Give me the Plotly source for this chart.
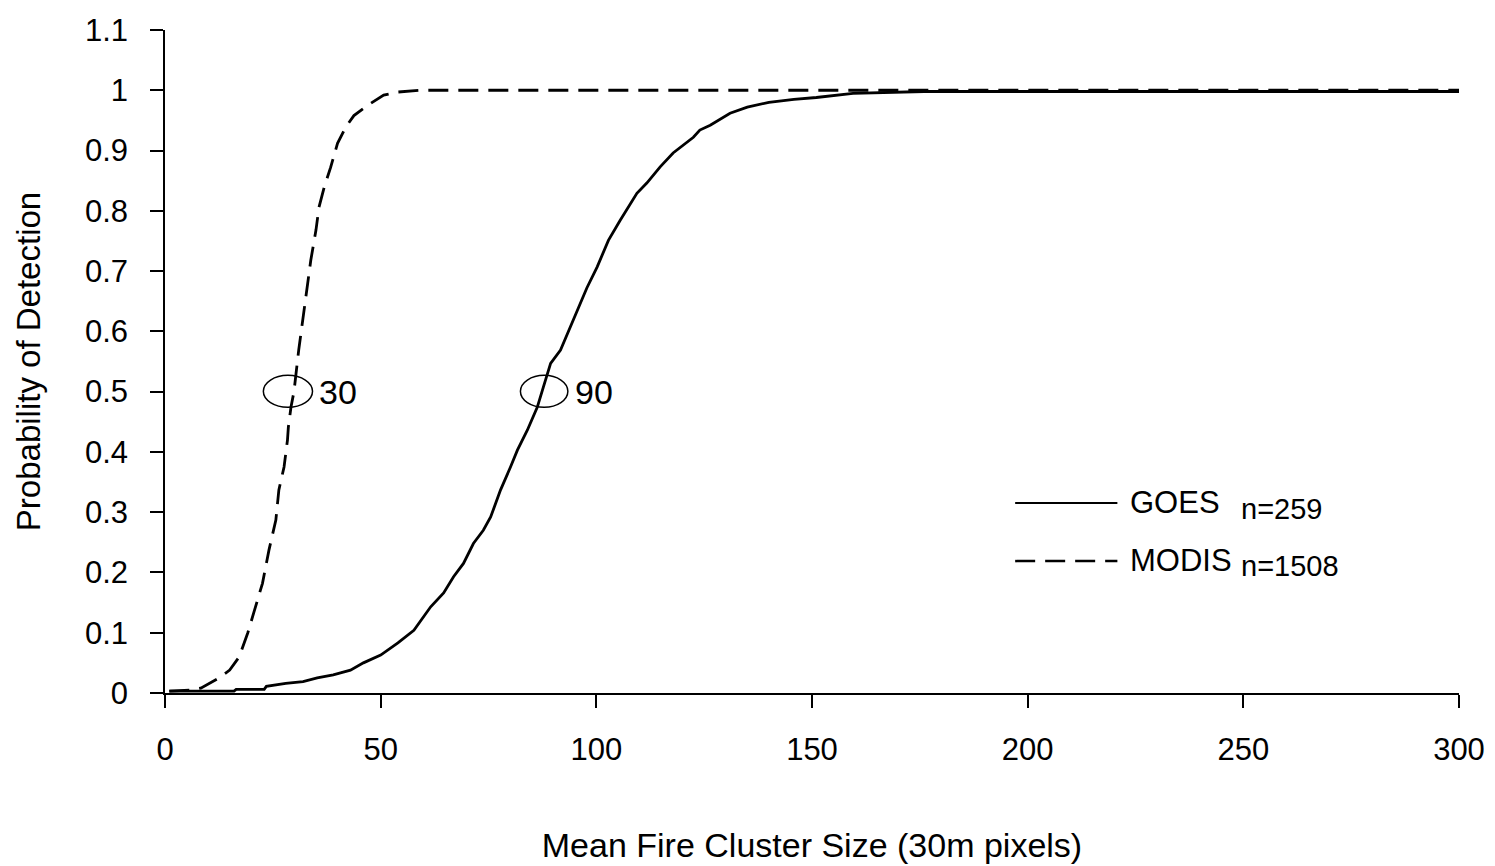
import plotly.graph_objects as go

# GOES curve (solid)
goes_x = [1, 16, 16.5, 23, 23.5, 28, 32, 35.3, 39, 43, 46, 50, 54, 57.7, 61.6, 64.6,
          66.9, 69.2, 71.5, 73.8, 75.5, 77.8, 80.1, 81.7, 84, 86.3, 87.7, 89.4, 91.7,
          93.5, 97.8, 100.2, 102.8, 105.5, 107.4, 109.4, 111.7, 114.8, 117.8, 120.2,
          122.5, 124, 126.4, 131, 135, 140, 145.8, 151, 159.5, 176, 300]
goes_y = [0.003, 0.003, 0.006, 0.006, 0.011, 0.016, 0.019, 0.025, 0.03, 0.038, 0.05,
          0.063, 0.083, 0.104, 0.143, 0.166, 0.193, 0.215, 0.248, 0.27, 0.292, 0.337,
          0.375, 0.403, 0.436, 0.474, 0.507, 0.547, 0.569, 0.6, 0.672, 0.707, 0.751,
          0.784, 0.806, 0.829, 0.846, 0.873, 0.896, 0.909, 0.922, 0.934, 0.942, 0.962,
          0.972, 0.98, 0.985, 0.988, 0.995, 0.998, 0.998]

# MODIS curve (dashed)
modis_x = [1, 6, 8.3, 12.5, 15, 17.2, 19.2, 20.7, 22.6, 24.1, 25.7, 26.4, 27.6, 28.4,
           28.6, 29.2, 29.9, 31, 33, 33.8, 35, 35.7, 36.9, 38.4, 40, 41.9, 43.8, 47,
           50.7, 53.9, 59.3, 300]
modis_y = [0.003, 0.005, 0.008, 0.025, 0.038, 0.06, 0.1, 0.138, 0.182, 0.237, 0.287,
           0.337, 0.375, 0.42, 0.441, 0.474, 0.5, 0.569, 0.672, 0.718, 0.768, 0.806,
           0.839, 0.872, 0.912, 0.939, 0.958, 0.975, 0.992, 0.997, 1.0, 1.0]

x_ticks = [0, 50, 100, 150, 200, 250, 300]
y_ticks = [0, 0.1, 0.2, 0.3, 0.4, 0.5, 0.6, 0.7, 0.8, 0.9, 1, 1.1]

# 50% detection sizes marked on the chart
half_labels = ["30", "90"]
half_x = [35.3, 94.7]
ellipse_x = [(22.8, 34.2), (82.4, 93.4)]

FONT = "Liberation Sans, Arial, sans-serif"

fig = go.Figure()
fig.add_trace(go.Scatter(x=goes_x, y=goes_y, mode="lines", name="GOES",
                         line=dict(color="black", width=2.8)))
fig.add_trace(go.Scatter(x=modis_x, y=modis_y, mode="lines", name="MODIS",
                         line=dict(color="black", width=2.8, dash="20px,10px")))

for lbl, tx, (x0, x1) in zip(half_labels, half_x, ellipse_x):
    fig.add_shape(type="circle", xref="x", yref="y", x0=x0, x1=x1, y0=0.474, y1=0.527,
                  line=dict(color="black", width=1.5))
    fig.add_annotation(x=tx, y=0.5, text=lbl, showarrow=False, xanchor="left",
                       yanchor="middle", font=dict(size=34, family=FONT, color="black"))

# legend drawn by hand
fig.add_shape(type="line", xref="paper", yref="paper", x0=0.657, x1=0.736,
              y0=0.2866, y1=0.2866, line=dict(color="black", width=2))
fig.add_shape(type="line", xref="paper", yref="paper", x0=0.657, x1=0.736,
              y0=0.199, y1=0.199, line=dict(color="black", width=2.5, dash="20px,10px"))
legend_items = [("GOES", "n=259", 0.288, 0.2775), ("MODIS", "n=1508", 0.2006, 0.1916)]
for name, n, yy, ny in legend_items:
    fig.add_annotation(xref="paper", yref="paper", x=0.744, y=yy, text=name,
                       showarrow=False, xanchor="left", yanchor="middle",
                       font=dict(size=31, family=FONT, color="black"))
    fig.add_annotation(xref="paper", yref="paper", x=0.830, y=ny, text=n,
                       showarrow=False, xanchor="left", yanchor="middle",
                       font=dict(size=29, family=FONT, color="black"))

fig.update_layout(
    width=1487, height=858,
    margin=dict(l=157, r=36, t=22, b=173),
    plot_bgcolor="white", paper_bgcolor="white",
    showlegend=False,
    font=dict(family=FONT, size=31, color="black"),
    xaxis=dict(range=[0, 300], tickvals=x_ticks, showgrid=False, zeroline=False,
               showline=True, linecolor="black", linewidth=1.5, automargin=False,
               ticks="outside", ticklen=13, tickwidth=1.5, tickcolor="black",
               ticklabelstandoff=15, tickfont=dict(size=31),
               title=dict(text="Mean Fire Cluster Size (30m pixels)", standoff=67,
                          font=dict(size=34))),
    yaxis=dict(range=[0, 1.1], tickvals=y_ticks, showgrid=False, zeroline=False,
               showline=True, linecolor="black", linewidth=1.5, automargin=False,
               ticks="outside", ticklen=13, tickwidth=1.5, tickcolor="black",
               ticklabelstandoff=16, tickfont=dict(size=31),
               title=dict(text="Probability of Detection", standoff=34,
                          font=dict(size=33))),
)

fig.write_html("out.html")
